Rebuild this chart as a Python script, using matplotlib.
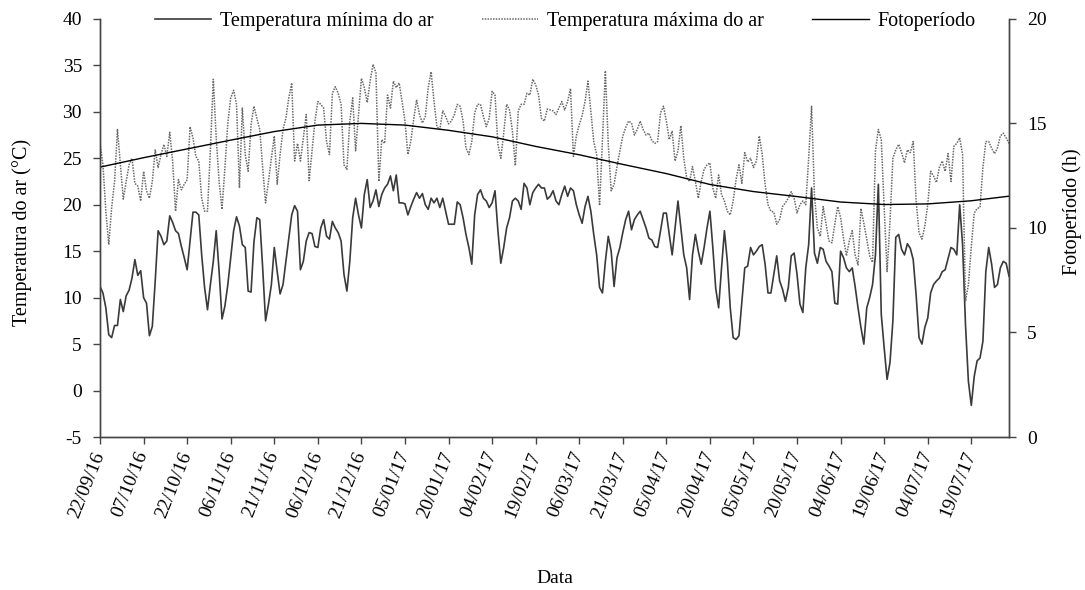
import pandas as pd
import matplotlib
matplotlib.use('Agg')
import matplotlib.pyplot as plt
import matplotlib.dates as mdates

plt.rcParams['font.family'] = 'Liberation Serif'
plt.rcParams['font.size'] = 14
plt.rcParams['axes.unicode_minus'] = False

# Temperatura mínima diária do ar (°C), a partir de 22/09/16
tmin = [11.2, 10.5, 8.9, 6.0, 5.7, 7.0, 7.0, 9.8, 8.5, 10.2,
        10.8, 12.1, 14.1, 12.4, 12.9, 10.0, 9.4, 5.9, 6.9, 11.8,
        17.2, 16.6, 15.7, 16.1, 18.8, 18.1, 17.2, 16.9, 15.5, 14.3,
        13.0, 16.1, 19.2, 19.2, 18.9, 14.6, 11.1, 8.7, 11.4, 13.9,
        17.2, 12.8, 7.7, 9.1, 11.4, 14.3, 17.2, 18.7, 17.7, 15.7,
        15.4, 10.7, 10.6, 16.0, 18.6, 18.4, 13.2, 7.5, 9.3, 11.4,
        15.4, 12.8, 10.4, 11.4, 13.9, 16.4, 18.9, 19.9, 19.3, 13.0,
        13.9, 16.1, 17.0, 16.9, 15.5, 15.4, 17.5, 18.4, 16.6, 16.3,
        18.2, 17.5, 17.0, 16.1, 12.5, 10.7, 13.9, 18.6, 20.7, 18.9,
        17.5, 21.1, 22.7, 19.7, 20.4, 21.6, 19.8, 21.1, 21.8, 22.2,
        23.1, 21.5, 23.2, 20.2, 20.2, 20.1, 18.9, 19.8, 20.6, 21.3,
        20.7, 21.2, 20.0, 19.5, 20.7, 20.2, 20.7, 19.7, 20.7, 19.3,
        17.9, 17.9, 17.9, 20.3, 20.0, 18.6, 16.8, 15.4, 13.6, 18.9,
        21.1, 21.6, 20.7, 20.4, 19.7, 20.2, 21.5, 17.2, 13.7, 15.4,
        17.5, 18.6, 20.4, 20.7, 20.4, 19.5, 22.3, 21.8, 20.0, 21.3,
        21.8, 22.2, 21.8, 21.8, 20.6, 20.9, 21.5, 20.4, 20.0, 21.1,
        22.0, 20.9, 21.8, 21.5, 20.0, 18.9, 18.0, 19.8, 20.9, 19.3,
        16.8, 14.6, 11.1, 10.5, 13.9, 16.6, 15.0, 11.2, 14.3, 15.4,
        17.0, 18.4, 19.3, 17.3, 18.4, 18.9, 19.3, 18.4, 17.5, 16.4,
        16.2, 15.5, 15.4, 17.2, 19.1, 19.1, 16.8, 14.6, 17.5, 20.4,
        17.5, 14.6, 13.2, 9.8, 14.6, 16.8, 15.0, 13.6, 15.4, 17.5,
        19.3, 15.4, 11.0, 8.9, 13.2, 17.2, 13.9, 8.9, 5.7, 5.5,
        5.9, 9.6, 13.2, 13.4, 15.4, 14.6, 15.0, 15.5, 15.7, 13.6,
        10.5, 10.5, 12.5, 14.5, 11.8, 10.9, 9.6, 11.1, 14.5, 14.8,
        12.5, 9.3, 8.4, 13.2, 15.7, 21.8, 14.8, 13.7, 15.4, 15.2,
        13.9, 13.4, 12.8, 9.4, 9.3, 15.0, 14.3, 13.2, 12.8, 13.2,
        11.2, 8.9, 6.8, 5.0, 8.9, 10.0, 11.4, 14.6, 22.2, 8.2,
        4.6, 1.2, 3.0, 7.5, 16.5, 16.8, 15.2, 14.6, 15.8, 15.3,
        14.1, 10.3, 5.7, 5.0, 6.8, 7.8, 10.5, 11.4, 11.8, 12.1,
        12.8, 13.0, 14.2, 15.4, 15.2, 14.6, 20.0, 15.7, 7.1, 1.0,
        -1.6, 1.5, 3.2, 3.5, 5.3, 12.8, 15.4, 13.6, 11.1, 11.4,
        13.2, 13.9, 13.7, 12.3]

# Temperatura máxima diária do ar (°C)
tmax = [26.6, 24.3, 19.3, 15.7, 19.7, 22.5, 28.1, 24.3, 20.6, 22.5,
        24.3, 25.0, 22.3, 22.0, 20.4, 23.6, 21.5, 20.7, 22.5, 25.9,
        24.0, 25.4, 26.5, 25.2, 27.8, 24.7, 19.3, 22.7, 21.6, 22.2,
        22.7, 28.4, 27.2, 25.2, 24.7, 20.7, 19.3, 19.3, 25.9, 33.5,
        27.2, 22.5, 19.5, 24.0, 28.8, 31.5, 32.3, 30.8, 21.8, 30.4,
        25.4, 23.6, 28.6, 30.6, 29.3, 28.1, 24.0, 20.2, 22.5, 25.0,
        27.4, 22.2, 25.4, 28.1, 29.3, 31.5, 33.1, 24.7, 26.6, 24.7,
        27.2, 29.7, 22.6, 25.8, 29.0, 31.1, 30.8, 30.4, 26.8, 25.4,
        32.0, 32.7, 32.0, 30.8, 24.3, 23.8, 29.0, 31.5, 25.8, 29.7,
        33.6, 32.6, 31.0, 33.3, 35.1, 34.2, 22.5, 27.0, 26.6, 31.8,
        30.4, 33.3, 32.6, 33.1, 31.1, 29.0, 25.4, 26.8, 29.2, 31.3,
        29.7, 28.8, 29.5, 32.6, 34.3, 31.1, 28.4, 28.1, 30.1, 29.5,
        28.7, 29.0, 29.7, 30.8, 30.6, 29.0, 26.1, 25.4, 26.8, 29.9,
        30.8, 30.8, 29.5, 28.4, 29.3, 32.2, 31.8, 26.5, 25.0, 27.7,
        30.8, 30.2, 27.9, 24.2, 30.1, 30.8, 30.8, 32.0, 31.8, 33.5,
        32.9, 31.8, 29.3, 29.0, 30.3, 30.2, 30.1, 29.7, 30.4, 31.1,
        30.2, 31.1, 32.5, 25.2, 27.4, 28.6, 29.6, 31.1, 33.3, 30.0,
        26.8, 25.4, 19.9, 27.0, 34.4, 26.5, 21.5, 22.2, 24.1, 25.8,
        27.4, 28.3, 29.0, 28.8, 27.5, 28.1, 29.0, 28.1, 27.5, 27.7,
        26.9, 26.6, 26.8, 29.9, 30.6, 29.0, 27.0, 27.9, 24.7, 25.8,
        28.5, 25.0, 22.9, 22.5, 24.1, 22.5, 20.7, 22.5, 23.8, 24.3,
        24.5, 21.8, 20.7, 23.2, 21.1, 20.4, 19.3, 18.9, 20.4, 22.7,
        24.3, 22.3, 25.6, 24.6, 25.0, 24.0, 24.7, 27.4, 25.4, 22.2,
        20.0, 19.3, 19.2, 17.9, 18.4, 19.8, 20.2, 20.7, 21.4, 20.7,
        19.1, 20.0, 20.4, 20.0, 25.0, 30.6, 21.0, 17.5, 16.6, 19.8,
        17.9, 16.1, 15.9, 17.9, 19.8, 18.6, 16.4, 14.5, 16.1, 17.2,
        14.6, 13.5, 19.6, 18.0, 16.3, 14.5, 13.8, 25.8, 28.1, 27.0,
        19.7, 12.8, 18.2, 25.0, 25.9, 26.5, 25.6, 24.5, 25.9, 25.6,
        26.8, 20.4, 17.0, 16.3, 17.7, 20.0, 23.6, 23.1, 22.4, 24.0,
        24.7, 23.6, 25.5, 22.5, 26.3, 26.6, 27.2, 25.4, 9.6, 11.4,
        15.5, 19.1, 19.6, 19.7, 24.0, 26.8, 26.8, 26.1, 25.5, 26.1,
        27.4, 27.7, 27.2, 26.6]

datas = pd.date_range('2016-09-22', periods=len(tmin), freq='D')

# Fotoperíodo (h), lido a cada 15 dias
foto_datas = pd.to_datetime([
    '2016-09-22', '2016-10-07', '2016-10-22', '2016-11-06', '2016-11-21',
    '2016-12-06', '2016-12-21', '2017-01-05', '2017-01-20', '2017-02-04',
    '2017-02-19', '2017-03-06', '2017-03-21', '2017-04-05', '2017-04-20',
    '2017-05-05', '2017-05-20', '2017-06-04', '2017-06-19', '2017-07-04',
    '2017-07-19', '2017-08-01'])
fotoperiodo = [12.91, 13.36, 13.78, 14.20, 14.61, 14.92, 15.00, 14.92,
               14.67, 14.36, 13.90, 13.50, 13.04, 12.60, 12.08, 11.74,
               11.50, 11.24, 11.12, 11.15, 11.30, 11.52]

ticks_x = pd.date_range('2016-09-22', '2017-07-19', freq='15D')

fig, ax = plt.subplots(figsize=(10.85, 5.9), dpi=100)
fig.subplots_adjust(left=0.0922, right=0.930, bottom=0.2593, top=0.968)
ax2 = ax.twinx()

l1, = ax.plot(datas, tmin, color='#3a3a3a', lw=1.2, ls='-')
l2, = ax.plot(datas, tmax, color='#6a6a6a', lw=1.1, ls=(0, (1.0, 0.8)))
l3, = ax2.plot(foto_datas, fotoperiodo, color='black', lw=1.0)

ax.set_xlim(datas[0], datas[-1])
ax.set_ylim(-5, 40)
ax.set_yticks(range(-5, 41, 5))
ax2.set_ylim(0, 20)
ax2.set_yticks(range(0, 21, 5))

ax.set_xticks(ticks_x)
ax.xaxis.set_major_formatter(mdates.DateFormatter('%d/%m/%y'))
for lab in ax.get_xticklabels():
    lab.set_rotation(68)
    lab.set_rotation_mode('anchor')
    lab.set_ha('right')
    lab.set_va('center')

for a in (ax, ax2):
    a.spines['top'].set_visible(False)
    for s in ('left', 'right', 'bottom'):
        a.spines[s].set_color('#444444')
        a.spines[s].set_linewidth(1.0)
    a.tick_params(direction='out', length=5, width=1, color='#444444',
                  labelsize=14, pad=8)
ax.tick_params(axis='x', pad=6)

ax.set_xlabel('Data', fontsize=14)
ax.xaxis.set_label_coords(0.5, -0.318)
ax.set_ylabel('Temperatura do ar (°C)', fontsize=14.5)
ax.yaxis.set_label_coords(-0.075, 0.489)
ax2.set_ylabel('Fotoperíodo (h)', fontsize=14.5)
ax2.yaxis.set_label_coords(1.059, 0.54)

fig.legend([l1, l2, l3],
           ['Temperatura mínima do ar', 'Temperatura máxima do ar', 'Fotoperíodo'],
           loc='center', bbox_to_anchor=(0.521, 0.963), ncol=3, frameon=False,
           handlelength=2.8, handletextpad=0.45, columnspacing=2.4, fontsize=14.5)

fig.savefig('out.png', dpi=100)
